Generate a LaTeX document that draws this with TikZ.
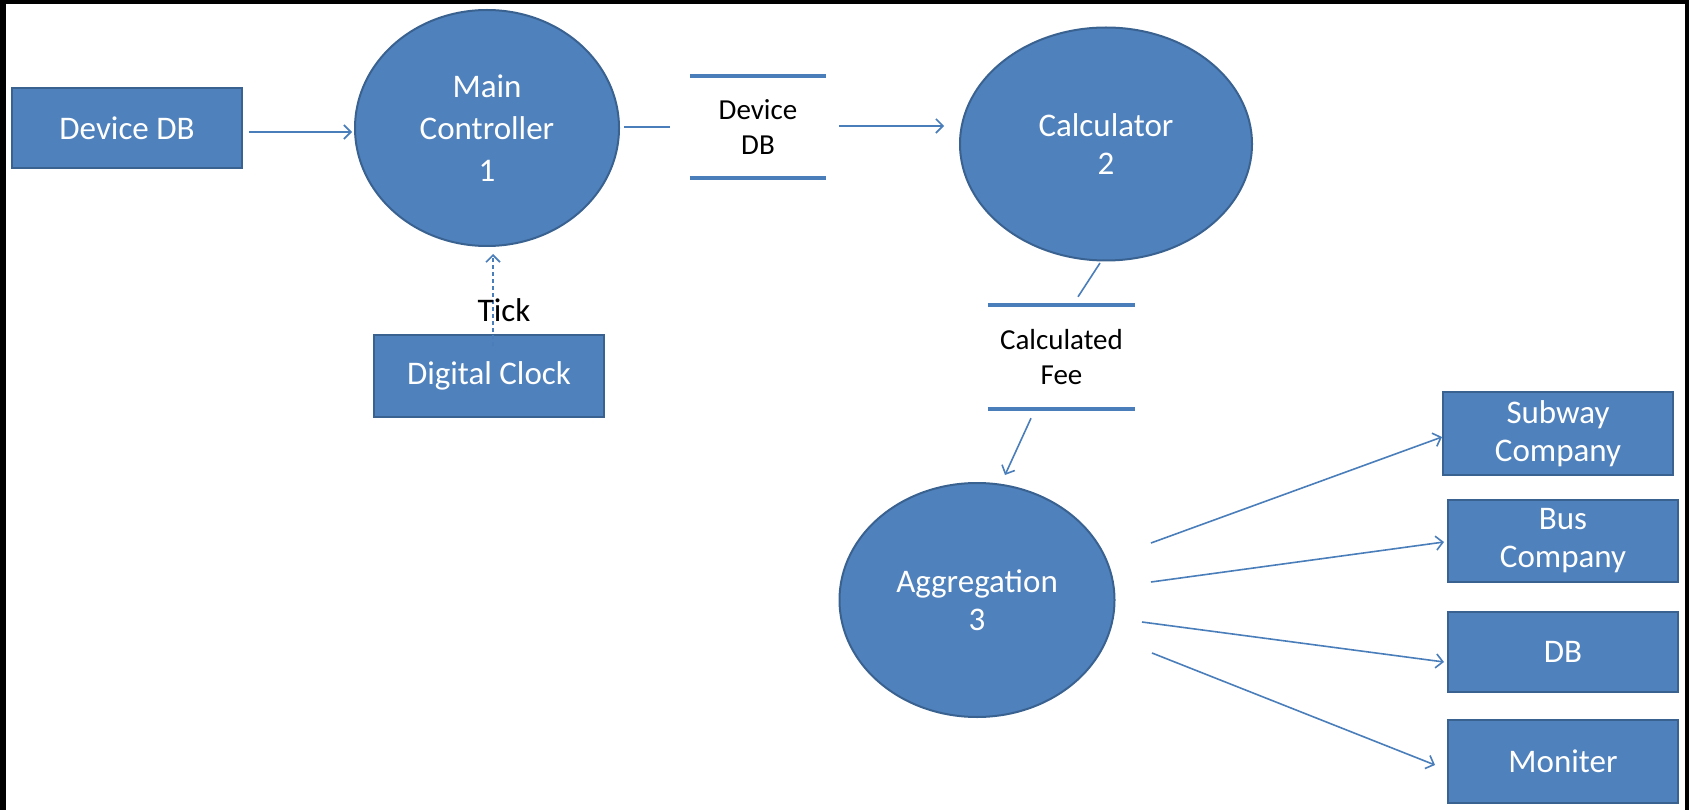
\documentclass[tikz,border=0pt]{standalone}
\usepackage{fontspec}
\setmainfont{Carlito}
\usetikzlibrary{shapes.geometric,arrows.meta,calc}
\definecolor{shapefill}{HTML}{4F81BD}
\definecolor{shapeedge}{HTML}{3A6290}
\definecolor{linkblue}{HTML}{4A7EBB}
\begin{document}
\begin{tikzpicture}[x=1pt,y=-1pt,
  procbox/.style={ellipse, fill=shapefill, draw=shapeedge, line width=2pt,
    inner sep=0pt, text=white, align=center, font=\fontsize{33}{38}\selectfont},
  entity/.style={rectangle, fill=shapefill, draw=shapeedge, line width=2pt,
    inner sep=0pt, text=white, align=center, font=\fontsize{33}{38}\selectfont},
  storetext/.style={rectangle, inner sep=0pt, align=center, text=black,
    font=\fontsize{29}{35}\selectfont},
  storeline/.style={draw=linkblue, line width=4.5pt},
  flow/.style={draw=linkblue, line width=1.6pt,
    -{Straight Barb[length=7pt,width=14pt]}},
  link/.style={draw=linkblue, line width=1.6pt},
  tickflow/.style={flow, dash pattern=on 4pt off 3pt},
]
% page and frame
\fill[white] (0,0) rectangle (1689,810);
\fill[black] (0,0) rectangle (1689,4);
\fill[black] (0,0) rectangle (6,810);
\fill[black] (1685,0) rectangle (1689,810);
\useasboundingbox (0,0) rectangle (1689,810);

% processes
\node[procbox, minimum width=264, minimum height=236,
      font=\fontsize{33}{42}\selectfont] (mc) at (487,128) {Main\\Controller\\1};
\node[procbox, minimum width=292, minimum height=233] (calc) at (1106,144) {Calculator\\2};
\node[procbox, minimum width=275, minimum height=234] (agg) at (977,600) {Aggregation\\3};

% external entities
\node[entity, minimum width=230, minimum height=80] (ddb) at (127,128) {Device DB};
\node[entity, minimum width=230, minimum height=82] (clock) at (489,376) {Digital Clock};
\node[entity, minimum width=230, minimum height=83] (subway) at (1558,433.5) {Subway\\Company};
\node[entity, minimum width=230, minimum height=82] (bus) at (1563,541) {Bus\\Company};
\node[entity, minimum width=230, minimum height=80] (db) at (1563,652) {DB};
\node[entity, minimum width=230, minimum height=83] (mon) at (1563,761.5) {Moniter};

% data stores
\node[storetext, minimum width=136, minimum height=99] (store1) at (758,127) {Device\\DB};
\draw[storeline] ($(store1.north west)+(0,-1.5)$) -- ($(store1.north east)+(0,-1.5)$);
\draw[storeline] ($(store1.south west)+(0,1.5)$) -- ($(store1.south east)+(0,1.5)$);
\node[storetext, minimum width=147, minimum height=102] (store2) at (1061.5,357) {Calculated\\Fee};
\draw[storeline] ($(store2.north west)+(0,-1)$) -- ($(store2.north east)+(0,-1)$);
\draw[storeline] ($(store2.south west)+(0,1)$) -- ($(store2.south east)+(0,1)$);

% data flows
\draw[flow] ($(ddb.east)+(6,4)$) -- ($(mc.west)+(-2,4)$);
\draw[link] ($(mc.east)+(4,-1)$) -- ($(store1.west)+(-20,0)$);
\draw[flow] ($(store1.east)+(13,-1)$) -- ($(calc.west)+(-15,-18)$);
\draw[link] ($(calc.south)+(-6,1.5)$) -- ($(store2.north)+(16.5,-9)$);
\draw[flow] ($(store2.south)+(-30.5,10)$) -- ($(agg.north)+(28,-7)$);

\draw[tickflow] ($(clock.north)+(4,12)$) -- ($(mc.south)+(6,7)$);
\node[font=\fontsize{33}{38}\selectfont, text=black, inner sep=0pt] (tick) at (504,310) {Tick};

\draw[flow] ($(agg.center)+(174,-57)$) -- ($(subway.west)+(0,3.5)$);
\draw[flow] ($(agg.center)+(174,-18)$) -- ($(bus.west)+(-3,1)$);
\draw[flow] ($(agg.center)+(165,22)$) -- ($(db.west)+(-3,10)$);
\draw[flow] ($(agg.center)+(175,53)$) -- ($(mon.west)+(-12,3.5)$);
\end{tikzpicture}
\end{document}
